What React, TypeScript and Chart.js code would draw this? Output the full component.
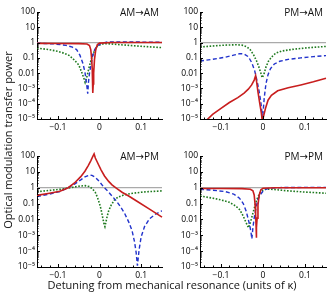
import React, { useEffect, useRef } from 'react';
import { Chart, registerables } from 'chart.js';
Chart.register(...registerables);

// ---- axis ticks ----
const xTickValues = [-0.1, 0, 0.1];
const xTickLabels = ['\u22120.1', '0', '0.1'];
const yTickValues = [100, 10, 1, 0.1, 0.01, 1e-3, 1e-4, 1e-5];
const yTickLabels = ['100', '10', '1', '0.1', '0.01', '10\u207B\u00B3', '10\u207B\u2074', '10\u207B\u2075'];
const panelTitles = ['AM\u2192AM', 'PM\u2192AM', 'AM\u2192PM', 'PM\u2192PM'];

// unity reference line
const unityX = [-0.15, 0.15];
const unityY = [1, 1];

// ---- AM -> AM ----
const amAmRedX = [-0.15, -0.1, -0.05, -0.03, -0.024, -0.021, -0.019, -0.0175, -0.0165, -0.0157, -0.015, -0.014, -0.012, -0.009, -0.005, 0, 0.03, 0.08, 0.15];
const amAmRedY = [0.88, 0.87, 0.85, 0.8, 0.65, 0.35, 0.1, 0.02, 4e-3, 5e-4, 2e-3, 0.01, 0.08, 0.35, 0.75, 0.92, 1.0, 1.0, 1.0];
const amAmBlueX = [-0.15, -0.11, -0.08, -0.065, -0.055, -0.047, -0.04, -0.035, -0.032, -0.03, -0.0283, -0.0265, -0.024, -0.02, -0.016, -0.012, -0.006, 0.004, 0.02, 0.06, 0.15];
const amAmBlueY = [0.9, 0.82, 0.66, 0.5, 0.35, 0.15, 0.045, 0.012, 3e-3, 1.2e-3, 4.5e-4, 2.5e-3, 0.01, 0.04, 0.15, 0.32, 0.6, 0.9, 1.1, 1.1, 1.05];
const amAmGreenX = [-0.15, -0.12, -0.1, -0.085, -0.072, -0.06, -0.05, -0.043, -0.038, -0.0345, -0.032, -0.029, -0.026, -0.022, -0.018, -0.013, -0.006, 0.005, 0.02, 0.05, 0.1, 0.15];
const amAmGreenY = [0.44, 0.34, 0.27, 0.2, 0.14, 0.07, 0.035, 0.012, 5e-3, 2.5e-3, 4e-3, 8e-3, 0.018, 0.05, 0.11, 0.25, 0.55, 0.8, 0.85, 0.72, 0.57, 0.47];

// ---- PM -> AM ----
const pmAmRedX = [-0.15, -0.135, -0.12, -0.1, -0.08, -0.06, -0.045, -0.035, -0.027, -0.021, -0.0175, -0.015, -0.012, -0.008, -0.004, -0.0015, 0.002, 0.006, 0.012, 0.02, 0.035, 0.06, 0.09, 0.12, 0.15];
const pmAmRedY = [2e-6, 8e-6, 2e-5, 5e-5, 1.2e-4, 2.5e-4, 5e-4, 9e-4, 1.7e-3, 3.5e-3, 6.8e-3, 2.5e-3, 6e-4, 1.2e-4, 2.5e-5, 7e-6, 1.8e-5, 5e-5, 1.7e-4, 3.5e-4, 7e-4, 1.1e-3, 1.7e-3, 2.7e-3, 4.6e-3];
const pmAmBlueX = [-0.15, -0.12, -0.09, -0.07, -0.055, -0.045, -0.035, -0.027, -0.02, -0.014, -0.009, -0.005, -0.001, 0.003, 0.007, 0.012, 0.018, 0.027, 0.04, 0.06, 0.09, 0.12, 0.15];
const pmAmBlueY = [0.062, 0.08, 0.11, 0.15, 0.19, 0.18, 0.12, 0.05, 0.015, 3e-3, 6e-4, 1.2e-4, 1.1e-5, 2.5e-4, 2e-3, 8e-3, 0.02, 0.04, 0.06, 0.08, 0.1, 0.12, 0.14];
const pmAmGreenX = [-0.15, -0.12, -0.09, -0.065, -0.05, -0.038, -0.03, -0.022, -0.015, -0.009, -0.005, -0.002, 0.002, 0.007, 0.013, 0.02, 0.03, 0.045, 0.07, 0.1, 0.15];
const pmAmGreenY = [0.51, 0.6, 0.68, 0.72, 0.68, 0.52, 0.33, 0.15, 0.06, 0.022, 0.01, 5e-3, 8e-3, 0.025, 0.06, 0.11, 0.2, 0.28, 0.36, 0.44, 0.56];

// ---- AM -> PM ----
const amPmRedX = [-0.15, -0.12, -0.095, -0.075, -0.06, -0.045, -0.035, -0.027, -0.021, -0.016, -0.013, -0.01, -0.006, -0.002, 0.004, 0.012, 0.022, 0.03, 0.041, 0.055, 0.07, 0.09, 0.12, 0.15];
const amPmRedY = [0.33, 0.45, 0.6, 1.0, 2.0, 5, 11, 25, 50, 95, 135, 75, 45, 27, 13, 5.5, 2.5, 1.5, 0.9, 0.5, 0.3, 0.14, 0.045, 0.014];
const amPmBlueX = [-0.15, -0.12, -0.095, -0.075, -0.06, -0.045, -0.035, -0.025, -0.018, -0.01, 0, 0.01, 0.02, 0.03, 0.04, 0.05, 0.06, 0.07, 0.078, 0.084, 0.088, 0.091, 0.095, 0.1, 0.108, 0.12, 0.135, 0.15];
const amPmBlueY = [0.28, 0.4, 0.58, 1.0, 1.7, 3.1, 4.8, 6.2, 6.0, 4.5, 2.4, 1.1, 0.6, 0.3, 0.15, 0.065, 0.025, 7e-3, 2e-3, 4e-4, 8e-5, 1.2e-5, 1.2e-4, 8e-4, 3.5e-3, 0.011, 0.022, 0.035];
const amPmGreenX = [-0.15, -0.12, -0.09, -0.07, -0.05, -0.035, -0.025, -0.017, -0.01, -0.005, 0, 0.004, 0.008, 0.011, 0.013, 0.015, 0.018, 0.022, 0.028, 0.036, 0.045, 0.06, 0.08, 0.11, 0.15];
const amPmGreenY = [0.56, 0.68, 0.82, 1.0, 1.25, 1.35, 1.2, 0.85, 0.5, 0.25, 0.1, 0.04, 0.012, 5e-3, 3.5e-3, 6e-3, 0.014, 0.035, 0.08, 0.17, 0.26, 0.36, 0.45, 0.55, 0.63];

// ---- PM -> PM ----
const pmPmRedX = [-0.15, -0.1, -0.05, -0.03, -0.024, -0.021, -0.019, -0.0175, -0.0165, -0.016, -0.0152, -0.014, -0.012, -0.009, -0.005, 0, 0.03, 0.08, 0.15];
const pmPmRedY = [0.9, 0.89, 0.87, 0.8, 0.65, 0.35, 0.1, 0.02, 4e-3, 7e-4, 3e-3, 0.012, 0.08, 0.35, 0.75, 0.92, 1.0, 1.0, 1.0];
const pmPmBlueX = [-0.15, -0.12, -0.09, -0.07, -0.056, -0.047, -0.04, -0.035, -0.031, -0.0285, -0.0265, -0.024, -0.021, -0.017, -0.012, -0.006, 0, 0.008, 0.015, 0.04, 0.1, 0.15];
const pmPmBlueY = [0.8, 0.7, 0.57, 0.4, 0.22, 0.1, 0.033, 0.01, 3.5e-3, 1.5e-3, 6e-4, 3e-3, 0.012, 0.05, 0.18, 0.38, 0.6, 0.82, 0.92, 1.02, 1.05, 1.05];
const pmPmGreenX = [-0.15, -0.12, -0.1, -0.08, -0.065, -0.055, -0.047, -0.041, -0.037, -0.0345, -0.032, -0.029, -0.025, -0.02, -0.015, -0.008, 0, 0.008, 0.025, 0.055, 0.1, 0.15];
const pmPmGreenY = [0.3, 0.22, 0.17, 0.12, 0.07, 0.04, 0.016, 7e-3, 4e-3, 3e-3, 4.5e-3, 8e-3, 0.02, 0.06, 0.17, 0.45, 0.7, 0.82, 0.78, 0.65, 0.53, 0.45];

// ---- styling ----
const RED = '#c81e1e';
const BLUE = '#2233cc';
const GREEN = '#1f7a1f';
const GRAY = '#aaaaaa';
const FONT = "'Open Sans', 'DejaVu Sans', sans-serif";

const panelSeries = [
  { red: [amAmRedX, amAmRedY], blue: [amAmBlueX, amAmBlueY], green: [amAmGreenX, amAmGreenY] },
  { red: [pmAmRedX, pmAmRedY], blue: [pmAmBlueX, pmAmBlueY], green: [pmAmGreenX, pmAmGreenY] },
  { red: [amPmRedX, amPmRedY], blue: [amPmBlueX, amPmBlueY], green: [amPmGreenX, amPmGreenY] },
  { red: [pmPmRedX, pmPmRedY], blue: [pmPmBlueX, pmPmBlueY], green: [pmPmGreenX, pmPmGreenY] },
];

// panel geometry (canvas box, axis sizes, paddings)
const panelBoxes = [
  { left: 0, top: 0, w: 166, h: 136, yw: 37, pt: 12, pr: 4, xh: 17 },
  { left: 164, top: 0, w: 166, h: 136, yw: 36, pt: 12, pr: 4, xh: 17 },
  { left: 0, top: 140, w: 166, h: 145, yw: 37, pt: 16, pr: 4, xh: 18 },
  { left: 164, top: 140, w: 166, h: 145, yw: 36, pt: 16, pr: 4, xh: 18 },
];

const pts = (xs: number[], ys: number[]) => xs.map((x, i) => ({ x, y: ys[i] }));

const tickMarksPlugin = {
  id: 'tickMarks',
  afterDraw(chart: any) {
    const { ctx, chartArea, scales } = chart;
    const xs = scales.x;
    const ys = scales.y;
    ctx.save();
    ctx.strokeStyle = '#000';
    ctx.lineWidth = 1;
    ctx.beginPath();
    for (let k = -7; k <= 7; k++) {
      const v = k * 0.02;
      const px = Math.round(xs.getPixelForValue(v)) + 0.5;
      ctx.moveTo(px, chartArea.bottom);
      ctx.lineTo(px, chartArea.bottom - 1.5);
    }
    for (const v of xTickValues) {
      const px = Math.round(xs.getPixelForValue(v)) + 0.5;
      ctx.moveTo(px, chartArea.bottom);
      ctx.lineTo(px, chartArea.bottom - 3);
    }
    for (let e = -5; e <= 2; e++) {
      const py = Math.round(ys.getPixelForValue(Math.pow(10, e))) + 0.5;
      ctx.moveTo(chartArea.left, py);
      ctx.lineTo(chartArea.left + 3, py);
      if (e < 2) {
        for (let m = 2; m <= 9; m++) {
          const q = Math.round(ys.getPixelForValue(m * Math.pow(10, e))) + 0.5;
          ctx.moveTo(chartArea.left, q);
          ctx.lineTo(chartArea.left + 1.5, q);
        }
      }
    }
    ctx.stroke();
    ctx.restore();
  },
};

const panelTitlePlugin = {
  id: 'panelTitle',
  afterDraw(chart: any, _args: any, opts: any) {
    const { ctx, chartArea } = chart;
    ctx.save();
    ctx.font = `10px ${FONT}`;
    ctx.fillStyle = '#111';
    ctx.textAlign = 'right';
    ctx.textBaseline = 'middle';
    ctx.fillText(opts.text, chartArea.right - 3, chartArea.top + 1);
    ctx.restore();
  },
};

function Panel({ index }: { index: number }) {
  const ref = useRef<HTMLCanvasElement | null>(null);
  const box = panelBoxes[index];
  useEffect(() => {
    if (!ref.current) return;
    const s = panelSeries[index];
    const chart = new Chart(ref.current, {
      type: 'line',
      data: {
        datasets: [
          { data: pts(unityX, unityY), borderColor: GRAY, borderWidth: 1.3, order: 4 },
          { data: pts(s.green[0], s.green[1]), borderColor: GREEN, borderWidth: 1.6, borderDash: [1.6, 1.6], order: 3 },
          { data: pts(s.blue[0], s.blue[1]), borderColor: BLUE, borderWidth: 1.4, borderDash: [4, 2.5], order: 2 },
          { data: pts(s.red[0], s.red[1]), borderColor: RED, borderWidth: 1.6, order: 1, clip: { left: 1, top: 8, right: 1, bottom: 0 } as any },
        ] as any,
      },
      options: {
        animation: false,
        responsive: false,
        maintainAspectRatio: false,
        events: [],
        layout: { padding: { top: box.pt, right: box.pr, left: 0, bottom: 0 } },
        elements: { point: { radius: 0 }, line: { tension: 0, fill: false } },
        plugins: {
          legend: { display: false },
          tooltip: { enabled: false },
          panelTitle: { text: panelTitles[index] },
        } as any,
        scales: {
          x: {
            type: 'linear',
            min: -0.15,
            max: 0.15,
            afterBuildTicks: (sc: any) => {
              sc.ticks = xTickValues.map((v) => ({ value: v }));
            },
            afterFit: (sc: any) => {
              sc.height = box.xh;
            },
            ticks: {
              autoSkip: false,
              maxRotation: 0,
              padding: 3,
              color: '#000',
              font: { family: FONT, size: 8.5 },
              callback: (v: any) => xTickLabels[xTickValues.indexOf(Number(v))] ?? '',
            },
            grid: { display: false, drawTicks: false },
            border: { display: true, color: '#000', width: 1 },
          },
          y: {
            type: 'logarithmic',
            min: 1e-5,
            max: 100,
            afterBuildTicks: (sc: any) => {
              sc.ticks = yTickValues.map((v) => ({ value: v }));
            },
            afterFit: (sc: any) => {
              sc.width = box.yw;
            },
            ticks: {
              autoSkip: false,
              padding: 2,
              color: '#000',
              font: { family: FONT, size: 8.5 },
              callback: (v: any) => yTickLabels[yTickValues.indexOf(Number(v))] ?? '',
            },
            grid: { display: false, drawTicks: false },
            border: { display: true, color: '#000', width: 1 },
          },
        } as any,
      },
      plugins: [tickMarksPlugin, panelTitlePlugin],
    } as any);
    return () => chart.destroy();
  }, [index]);
  return (
    <canvas
      ref={ref}
      width={box.w}
      height={box.h}
      style={{ position: 'absolute', left: box.left, top: box.top, width: box.w, height: box.h }}
    />
  );
}

export default function App() {
  return (
    <div style={{ position: 'absolute', left: 0, top: 0, width: 330, height: 296, background: '#fff', overflow: 'hidden' }}>
      {[0, 1, 2, 3].map((i) => (
        <Panel key={i} index={i} />
      ))}
      <div
        style={{
          position: 'absolute',
          left: 8 - 120,
          top: 140 - 7,
          width: 240,
          height: 14,
          lineHeight: '14px',
          textAlign: 'center',
          transform: 'rotate(-90deg)',
          fontFamily: FONT,
          fontSize: 11,
          color: '#111',
          whiteSpace: 'nowrap',
        }}
      >
        Optical modulation transfer power
      </div>
      <div
        style={{
          position: 'absolute',
          left: 22,
          top: 278,
          width: 300,
          height: 14,
          lineHeight: '14px',
          textAlign: 'center',
          fontFamily: FONT,
          fontSize: 11,
          color: '#111',
          whiteSpace: 'nowrap',
        }}
      >
        Detuning from mechanical resonance (units of {'\u03BA'})
      </div>
    </div>
  );
}
